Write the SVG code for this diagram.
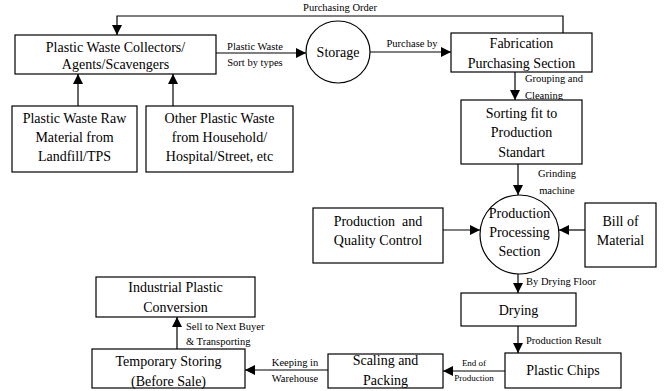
<svg xmlns="http://www.w3.org/2000/svg" width="666" height="391" viewBox="0 0 666 391" font-family="Liberation Serif, Times New Roman, DejaVu Serif, serif">
<defs>
<marker id="ah" viewBox="0 0 10 10" refX="10" refY="5" markerWidth="10" markerHeight="10" markerUnits="userSpaceOnUse" orient="auto">
<path d="M0,0 L10,5 L0,10 z" fill="#000"/>
</marker>
<style>
text{font-family:'Liberation Serif','Times New Roman','DejaVu Serif',serif}
.box{fill:#fff;stroke:#000;stroke-width:1.2}
.t{font-size:14px;fill:#000;text-anchor:middle}
.e{font-size:10.5px;fill:#000}
.s{font-size:9px;fill:#000;text-anchor:middle}
.c{fill:none;stroke:#000;stroke-width:1.2;marker-end:url(#ah)}
</style>
</defs>
<rect width="666" height="391" fill="#fff"/>
<g id="connectors">
<path class="c" d="M563,33 V16 H117 V35"/>
<path class="c" d="M216,53 H306"/>
<path class="c" d="M78,106 V74"/>
<path class="c" d="M173,106 V74"/>
<path class="c" d="M370,52 H451"/>
<path class="c" d="M515,72 V100"/>
<path class="c" d="M518,164 V195"/>
<path class="c" d="M443,230 H480"/>
<path class="c" d="M585,230 H559"/>
<path class="c" d="M518,274 V293"/>
<path class="c" d="M518,326 V353"/>
<path class="c" d="M505,371 H443"/>
<path class="c" d="M328,370 H245"/>
<path class="c" d="M177,349 V317"/>
<text class="e" x="340" y="11" text-anchor="middle">Purchasing Order</text>
<text class="e" x="255" y="50" text-anchor="middle">Plastic Waste</text>
<text class="e" x="255" y="66" text-anchor="middle">Sort by types</text>
<text class="e" x="412" y="47" text-anchor="middle">Purchase by</text>
<text class="e" x="525" y="82">Grouping and</text>
<text class="e" x="525" y="99">Cleaning</text>
<text class="e" x="557" y="177" text-anchor="middle">Grinding</text>
<text class="e" x="557" y="194" text-anchor="middle">machine</text>
<text class="e" x="526" y="285">By Drying Floor</text>
<text class="e" x="526" y="344">Production Result</text>
<text class="s" x="474" y="366">End of</text>
<text class="s" x="474" y="381">Production</text>
<text class="e" x="295" y="366" text-anchor="middle">Keeping in</text>
<text class="e" x="295" y="382" text-anchor="middle">Warehouse</text>
<text class="e" x="186" y="330">Sell to Next Buyer</text>
<text class="e" x="186" y="345">&amp; Transporting</text>
</g>
<g id="collectors">
<rect class="box" x="15" y="35" width="201" height="39"/>
<text class="t" x="115.5" y="52">Plastic Waste Collectors/</text>
<text class="t" x="115.5" y="69">Agents/Scavengers</text>
</g>
<g id="raw">
<rect class="box" x="12" y="106" width="125" height="66"/>
<text class="t" x="74.5" y="123">Plastic Waste Raw</text>
<text class="t" x="74.5" y="142">Material from</text>
<text class="t" x="74.5" y="161">Landfill/TPS</text>
</g>
<g id="other">
<rect class="box" x="146" y="106" width="147" height="66"/>
<text class="t" x="219.5" y="123">Other Plastic Waste</text>
<text class="t" x="219.5" y="142">from Household/</text>
<text class="t" x="219.5" y="161">Hospital/Street, etc</text>
</g>
<g id="storage">
<ellipse class="box" cx="338" cy="52" rx="32" ry="31"/>
<text class="t" x="338" y="57">Storage</text>
</g>
<g id="fabrication">
<rect class="box" x="451" y="33" width="141" height="39"/>
<text class="t" x="521.5" y="48">Fabrication</text>
<text class="t" x="521.5" y="68">Purchasing Section</text>
</g>
<g id="sorting">
<rect class="box" x="461" y="100" width="121" height="64"/>
<text class="t" x="521.5" y="118">Sorting fit to</text>
<text class="t" x="521.5" y="137">Production</text>
<text class="t" x="521.5" y="157">Standart</text>
</g>
<g id="processing">
<circle class="box" cx="519.5" cy="234.5" r="39.5"/>
<text class="t" x="519.5" y="218">Production</text>
<text class="t" x="519.5" y="237">Processing</text>
<text class="t" x="519.5" y="256">Section</text>
</g>
<g id="quality">
<rect class="box" x="313" y="208" width="130" height="55"/>
<text class="t" x="378" y="226" xml:space="preserve">Production  and</text>
<text class="t" x="378" y="245">Quality Control</text>
</g>
<g id="bom">
<rect class="box" x="585" y="203" width="71" height="64"/>
<text class="t" x="620.5" y="226">Bill of</text>
<text class="t" x="620.5" y="245">Material</text>
</g>
<g id="drying">
<rect class="box" x="461" y="293" width="115" height="33"/>
<text class="t" x="518.5" y="315">Drying</text>
</g>
<g id="chips">
<rect class="box" x="505" y="353" width="116" height="35"/>
<text class="t" x="563" y="375">Plastic Chips</text>
</g>
<g id="scaling">
<rect class="box" x="328" y="354" width="115" height="34"/>
<text class="t" x="385.5" y="365">Scaling and</text>
<text class="t" x="385.5" y="385">Packing</text>
</g>
<g id="temporary">
<rect class="box" x="92" y="349" width="153" height="39"/>
<text class="t" x="168.5" y="366">Temporary Storing</text>
<text class="t" x="168.5" y="386">(Before Sale)</text>
</g>
<g id="industrial">
<rect class="box" x="96" y="277" width="159" height="40"/>
<text class="t" x="175.5" y="292">Industrial Plastic</text>
<text class="t" x="175.5" y="312">Conversion</text>
</g>
</svg>
